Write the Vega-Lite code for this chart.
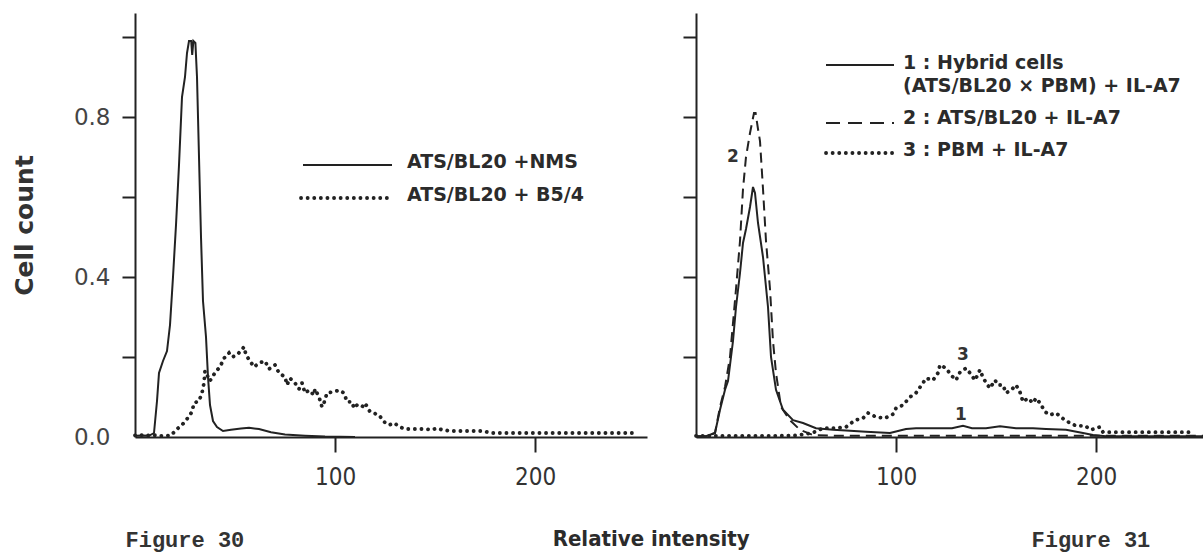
{
  "$schema": "https://vega.github.io/schema/vega-lite/v6.json",
  "background": "white",
  "padding": {"left": 12, "top": 13, "right": 0, "bottom": 3},
  "title": {"text": "Relative intensity", "orient": "bottom", "anchor": "middle", "frame": "bounds", "dx": 41, "offset": -21, "font": "Liberation Sans Narrow, DejaVu Sans Condensed, sans-serif", "fontSize": 22, "fontWeight": "bold", "color": "#2b2b2b"},
  "config": {"view": {"stroke": null}, "axis": {"grid": false, "domainColor": "#222", "domainWidth": 2, "tickColor": "#222", "tickWidth": 2}},
  "datasets": {
    "f30": [
      {"s":"NMS","x":0,"y":0.003},{"s":"NMS","x":4,"y":0.004},{"s":"NMS","x":7,"y":0.003},{"s":"NMS","x":9.5,"y":0.01},{"s":"NMS","x":11,"y":0.09},{"s":"NMS","x":12,"y":0.16},{"s":"NMS","x":14,"y":0.19},{"s":"NMS","x":16,"y":0.215},{"s":"NMS","x":17.5,"y":0.28},{"s":"NMS","x":19,"y":0.4},{"s":"NMS","x":20.5,"y":0.53},{"s":"NMS","x":22,"y":0.68},{"s":"NMS","x":23.5,"y":0.85},{"s":"NMS","x":25,"y":0.9},{"s":"NMS","x":26,"y":0.96},{"s":"NMS","x":27,"y":0.99},{"s":"NMS","x":28.1,"y":0.99},{"s":"NMS","x":28.6,"y":0.955},{"s":"NMS","x":29.2,"y":0.99},{"s":"NMS","x":30.2,"y":0.985},{"s":"NMS","x":31,"y":0.9},{"s":"NMS","x":32,"y":0.7},{"s":"NMS","x":33,"y":0.5},{"s":"NMS","x":34,"y":0.34},{"s":"NMS","x":35.5,"y":0.25},{"s":"NMS","x":36.5,"y":0.15},{"s":"NMS","x":37.5,"y":0.08},{"s":"NMS","x":39,"y":0.04},{"s":"NMS","x":41,"y":0.025},{"s":"NMS","x":44,"y":0.015},{"s":"NMS","x":48,"y":0.018},{"s":"NMS","x":53,"y":0.021},{"s":"NMS","x":57,"y":0.023},{"s":"NMS","x":62,"y":0.02},{"s":"NMS","x":68,"y":0.012},{"s":"NMS","x":75,"y":0.006},{"s":"NMS","x":85,"y":0.003},{"s":"NMS","x":95,"y":0.001},{"s":"NMS","x":110,"y":0},
      {"s":"B54","x":0,"y":0.004},{"s":"B54","x":3,"y":0.005},{"s":"B54","x":6,"y":0.004},{"s":"B54","x":9,"y":0.005},{"s":"B54","x":12,"y":0.003},{"s":"B54","x":15,"y":0.003},{"s":"B54","x":18,"y":0.004},{"s":"B54","x":21,"y":0.02},{"s":"B54","x":23.5,"y":0.03},{"s":"B54","x":26,"y":0.045},{"s":"B54","x":28.5,"y":0.063},{"s":"B54","x":29.5,"y":0.085},{"s":"B54","x":32,"y":0.09},{"s":"B54","x":33.5,"y":0.11},{"s":"B54","x":34.5,"y":0.135},{"s":"B54","x":35,"y":0.165},{"s":"B54","x":37.5,"y":0.14},{"s":"B54","x":38.5,"y":0.15},{"s":"B54","x":41,"y":0.167},{"s":"B54","x":42.5,"y":0.175},{"s":"B54","x":44.5,"y":0.197},{"s":"B54","x":47,"y":0.21},{"s":"B54","x":48.5,"y":0.2},{"s":"B54","x":51,"y":0.205},{"s":"B54","x":54.5,"y":0.225},{"s":"B54","x":55.5,"y":0.205},{"s":"B54","x":57.5,"y":0.19},{"s":"B54","x":59.5,"y":0.175},{"s":"B54","x":62,"y":0.185},{"s":"B54","x":65,"y":0.19},{"s":"B54","x":67,"y":0.17},{"s":"B54","x":70,"y":0.18},{"s":"B54","x":72,"y":0.16},{"s":"B54","x":75,"y":0.15},{"s":"B54","x":76,"y":0.13},{"s":"B54","x":77.5,"y":0.147},{"s":"B54","x":80,"y":0.135},{"s":"B54","x":82,"y":0.12},{"s":"B54","x":83.5,"y":0.135},{"s":"B54","x":85,"y":0.11},{"s":"B54","x":87,"y":0.117},{"s":"B54","x":89.5,"y":0.105},{"s":"B54","x":90,"y":0.12},{"s":"B54","x":92,"y":0.1},{"s":"B54","x":93.5,"y":0.075},{"s":"B54","x":94.5,"y":0.085},{"s":"B54","x":96,"y":0.11},{"s":"B54","x":99.5,"y":0.113},{"s":"B54","x":102,"y":0.117},{"s":"B54","x":104.5,"y":0.11},{"s":"B54","x":106,"y":0.088},{"s":"B54","x":108.5,"y":0.088},{"s":"B54","x":109.5,"y":0.072},{"s":"B54","x":111,"y":0.08},{"s":"B54","x":113.5,"y":0.075},{"s":"B54","x":115,"y":0.085},{"s":"B54","x":117.5,"y":0.063},{"s":"B54","x":122,"y":0.055},{"s":"B54","x":124.5,"y":0.038},{"s":"B54","x":127,"y":0.03},{"s":"B54","x":129.5,"y":0.035},{"s":"B54","x":132.5,"y":0.025},{"s":"B54","x":135,"y":0.02},{"s":"B54","x":140,"y":0.02},{"s":"B54","x":144,"y":0.02},{"s":"B54","x":148.5,"y":0.018},{"s":"B54","x":151,"y":0.022},{"s":"B54","x":153.5,"y":0.018},{"s":"B54","x":158,"y":0.015},{"s":"B54","x":165,"y":0.015},{"s":"B54","x":173.5,"y":0.015},{"s":"B54","x":178.5,"y":0.01},{"s":"B54","x":190,"y":0.01},{"s":"B54","x":200,"y":0.01},{"s":"B54","x":210,"y":0.01},{"s":"B54","x":220,"y":0.01},{"s":"B54","x":230,"y":0.01},{"s":"B54","x":240,"y":0.01},{"s":"B54","x":248.5,"y":0.01}
    ],
    "f31": [
      {"s":"1","x":0,"y":0.002},{"s":"1","x":5,"y":0.002},{"s":"1","x":9.5,"y":0.01},{"s":"1","x":12,"y":0.068},{"s":"1","x":14.5,"y":0.118},{"s":"1","x":16,"y":0.14},{"s":"1","x":18.5,"y":0.24},{"s":"1","x":20,"y":0.325},{"s":"1","x":22,"y":0.41},{"s":"1","x":23.5,"y":0.485},{"s":"1","x":25,"y":0.52},{"s":"1","x":27,"y":0.575},{"s":"1","x":28.5,"y":0.625},{"s":"1","x":29.5,"y":0.61},{"s":"1","x":31,"y":0.535},{"s":"1","x":33.5,"y":0.45},{"s":"1","x":36,"y":0.325},{"s":"1","x":37.5,"y":0.2},{"s":"1","x":40,"y":0.118},{"s":"1","x":43.5,"y":0.068},{"s":"1","x":48.5,"y":0.042},{"s":"1","x":53.5,"y":0.035},{"s":"1","x":60,"y":0.022},{"s":"1","x":68.5,"y":0.018},{"s":"1","x":75,"y":0.016},{"s":"1","x":85,"y":0.013},{"s":"1","x":97,"y":0.01},{"s":"1","x":105,"y":0.02},{"s":"1","x":110,"y":0.022},{"s":"1","x":120,"y":0.022},{"s":"1","x":128,"y":0.022},{"s":"1","x":133.5,"y":0.028},{"s":"1","x":138,"y":0.022},{"s":"1","x":145,"y":0.022},{"s":"1","x":152,"y":0.027},{"s":"1","x":160,"y":0.022},{"s":"1","x":168.5,"y":0.022},{"s":"1","x":175,"y":0.02},{"s":"1","x":185,"y":0.018},{"s":"1","x":193.5,"y":0.01},{"s":"1","x":198.5,"y":0.005},{"s":"1","x":205,"y":0.002},{"s":"1","x":254,"y":0.002},
      {"s":"2","x":0,"y":0.002},{"s":"2","x":5,"y":0.002},{"s":"2","x":9.5,"y":0.01},{"s":"2","x":12,"y":0.075},{"s":"2","x":14.5,"y":0.125},{"s":"2","x":17,"y":0.2},{"s":"2","x":18.5,"y":0.285},{"s":"2","x":20,"y":0.37},{"s":"2","x":22,"y":0.49},{"s":"2","x":23.5,"y":0.62},{"s":"2","x":25,"y":0.7},{"s":"2","x":27,"y":0.76},{"s":"2","x":29,"y":0.81},{"s":"2","x":29.8,"y":0.81},{"s":"2","x":31,"y":0.77},{"s":"2","x":32,"y":0.74},{"s":"2","x":33.5,"y":0.62},{"s":"2","x":35,"y":0.49},{"s":"2","x":37,"y":0.37},{"s":"2","x":38.5,"y":0.24},{"s":"2","x":40,"y":0.16},{"s":"2","x":42.5,"y":0.075},{"s":"2","x":47,"y":0.042},{"s":"2","x":52,"y":0.018},{"s":"2","x":58.5,"y":0.005},{"s":"2","x":70,"y":0.003},{"s":"2","x":100,"y":0.003},{"s":"2","x":150,"y":0.003},{"s":"2","x":200,"y":0.003},{"s":"2","x":254,"y":0.003},
      {"s":"3","x":0,"y":0.003},{"s":"3","x":10,"y":0.003},{"s":"3","x":20,"y":0.003},{"s":"3","x":30,"y":0.003},{"s":"3","x":40,"y":0.003},{"s":"3","x":50,"y":0.004},{"s":"3","x":58,"y":0.01},{"s":"3","x":63.5,"y":0.022},{"s":"3","x":70,"y":0.022},{"s":"3","x":75,"y":0.025},{"s":"3","x":79.5,"y":0.042},{"s":"3","x":83.5,"y":0.047},{"s":"3","x":86,"y":0.06},{"s":"3","x":90,"y":0.05},{"s":"3","x":94.5,"y":0.047},{"s":"3","x":98.5,"y":0.057},{"s":"3","x":100,"y":0.072},{"s":"3","x":103.5,"y":0.08},{"s":"3","x":107,"y":0.1},{"s":"3","x":110,"y":0.11},{"s":"3","x":113.5,"y":0.135},{"s":"3","x":115,"y":0.147},{"s":"3","x":118.5,"y":0.142},{"s":"3","x":121,"y":0.16},{"s":"3","x":122,"y":0.18},{"s":"3","x":125,"y":0.172},{"s":"3","x":127.5,"y":0.155},{"s":"3","x":130,"y":0.142},{"s":"3","x":132,"y":0.162},{"s":"3","x":135,"y":0.172},{"s":"3","x":137,"y":0.16},{"s":"3","x":139.5,"y":0.142},{"s":"3","x":142,"y":0.168},{"s":"3","x":143,"y":0.155},{"s":"3","x":145,"y":0.135},{"s":"3","x":147,"y":0.122},{"s":"3","x":149.5,"y":0.142},{"s":"3","x":151,"y":0.13},{"s":"3","x":153.5,"y":0.13},{"s":"3","x":155,"y":0.11},{"s":"3","x":157.5,"y":0.117},{"s":"3","x":160,"y":0.13},{"s":"3","x":162,"y":0.112},{"s":"3","x":163.5,"y":0.088},{"s":"3","x":166,"y":0.097},{"s":"3","x":168.5,"y":0.085},{"s":"3","x":170,"y":0.097},{"s":"3","x":172,"y":0.085},{"s":"3","x":174.5,"y":0.063},{"s":"3","x":177,"y":0.055},{"s":"3","x":180,"y":0.06},{"s":"3","x":184.5,"y":0.042},{"s":"3","x":187,"y":0.035},{"s":"3","x":190,"y":0.028},{"s":"3","x":194.5,"y":0.028},{"s":"3","x":197.5,"y":0.018},{"s":"3","x":202,"y":0.025},{"s":"3","x":203.5,"y":0.012},{"s":"3","x":215,"y":0.012},{"s":"3","x":230,"y":0.012},{"s":"3","x":247,"y":0.012}
    ]
  },
  "spacing": 35,
  "hconcat": [
    {
      "width": 512,
      "height": 424,
      "encoding": {
        "x": {"field": "x", "type": "quantitative", "scale": {"domain": [0, 256], "nice": false, "zero": false},
          "axis": {"values": [100, 200], "format": "d", "tickSize": 15, "labelFont": "Liberation Sans Narrow, DejaVu Sans Condensed, sans-serif", "labelFontSize": 24, "labelColor": "#333", "labelPadding": 13,
            "title": "Figure 30", "titleFont": "Liberation Mono, DejaVu Sans Mono, monospace", "titleFontSize": 22, "titleFontWeight": "bold", "titleColor": "#333", "titleX": -10, "titleY": 102, "titleAlign": "left", "titleAnchor": "start", "titleBaseline": "middle"}},
        "y": {"field": "y", "type": "quantitative", "scale": {"domain": [0, 1.06], "nice": false},
          "axis": {"values": [0, 0.2, 0.4, 0.6, 0.8, 1], "labelExpr": "datum.value == 0 ? '0.0' : datum.value == 0.4 ? '0.4' : datum.value == 0.8 ? '0.8' : ''", "tickSize": 13,
            "tickOpacity": {"condition": {"test": "datum.value == 0", "value": 0}, "value": 1},
            "labelFont": "DejaVu Sans", "labelFontSize": 23, "labelColor": "#444", "labelPadding": 12,
            "title": "Cell count", "titleFont": "DejaVu Sans", "titleFontSize": 25, "titleFontWeight": "bold", "titleColor": "#333", "titlePadding": 36}}
      },
      "layer": [
        {
          "data": {"name": "f30"},
          "transform": [{"filter": "datum.s == 'NMS'"}],
          "mark": {"type": "line", "color": "#222", "strokeWidth": 2}
        },
        {
          "data": {"name": "f30"},
          "transform": [{"filter": "datum.s == 'B54'"}],
          "mark": {"type": "line", "color": "#222", "strokeWidth": 3.8, "strokeDash": [0.1, 6.5], "strokeCap": "round"}
        },
        {
          "data": {"values": [{"x": 84, "x2": 128.5, "y": 0.68}]},
          "mark": {"type": "rule", "color": "#222", "strokeWidth": 2},
          "encoding": {"x2": {"field": "x2"}}
        },
        {
          "data": {"values": [{"x": 83, "x2": 128.5, "y": 0.5975}]},
          "mark": {"type": "rule", "color": "#222", "strokeWidth": 3.8, "strokeDash": [0.1, 6.5], "strokeCap": "round"},
          "encoding": {"x2": {"field": "x2"}}
        },
        {
          "data": {"values": [{"x": 136, "y": 0.6875, "label": "ATS/BL20 +NMS"}, {"x": 136, "y": 0.605, "label": "ATS/BL20 + B5/4"}]},
          "mark": {"type": "text", "align": "left", "baseline": "middle", "font": "DejaVu Sans", "fontWeight": "bold", "fontSize": 19, "color": "#2b2b2b"},
          "encoding": {"text": {"field": "label"}}
        }
      ]
    },
    {
      "width": 508,
      "height": 424,
      "encoding": {
        "x": {"field": "x", "type": "quantitative", "scale": {"domain": [0, 254], "nice": false, "zero": false},
          "axis": {"values": [100, 200], "format": "d", "tickSize": 15, "labelFont": "Liberation Sans Narrow, DejaVu Sans Condensed, sans-serif", "labelFontSize": 24, "labelColor": "#333", "labelPadding": 13,
            "title": "Figure 31", "titleFont": "Liberation Mono, DejaVu Sans Mono, monospace", "titleFontSize": 22, "titleFontWeight": "bold", "titleColor": "#333", "titleX": 335, "titleY": 102, "titleAlign": "left", "titleAnchor": "start", "titleBaseline": "middle"}},
        "y": {"field": "y", "type": "quantitative", "scale": {"domain": [0, 1.06], "nice": false},
          "axis": {"values": [0, 0.2, 0.4, 0.6, 0.8, 1], "labels": false, "tickSize": 13, "title": null,
            "tickOpacity": {"condition": {"test": "datum.value == 0", "value": 0}, "value": 1}}}
      },
      "layer": [
        {
          "data": {"name": "f31"},
          "transform": [{"filter": "datum.s == '1'"}],
          "mark": {"type": "line", "color": "#222", "strokeWidth": 2}
        },
        {
          "data": {"name": "f31"},
          "transform": [{"filter": "datum.s == '2'"}],
          "mark": {"type": "line", "color": "#222", "strokeWidth": 2, "strokeDash": [10, 6]}
        },
        {
          "data": {"name": "f31"},
          "transform": [{"filter": "datum.s == '3'"}],
          "mark": {"type": "line", "color": "#222", "strokeWidth": 3.8, "strokeDash": [0.1, 6.5], "strokeCap": "round"}
        },
        {
          "data": {"values": [{"x": 65, "x2": 99, "y": 0.93}]},
          "mark": {"type": "rule", "color": "#222", "strokeWidth": 2},
          "encoding": {"x2": {"field": "x2"}}
        },
        {
          "data": {"values": [{"x": 65, "x2": 99, "y": 0.785}]},
          "mark": {"type": "rule", "color": "#222", "strokeWidth": 2, "strokeDash": [14, 8]},
          "encoding": {"x2": {"field": "x2"}}
        },
        {
          "data": {"values": [{"x": 65, "x2": 99, "y": 0.71}]},
          "mark": {"type": "rule", "color": "#222", "strokeWidth": 3.8, "strokeDash": [0.1, 6.5], "strokeCap": "round"},
          "encoding": {"x2": {"field": "x2"}}
        },
        {
          "data": {"values": [
            {"x": 103.5, "y": 0.935, "label": "1 : Hybrid cells"},
            {"x": 103.5, "y": 0.8775, "label": "(ATS/BL20 × PBM) + IL-A7"},
            {"x": 103.5, "y": 0.7975, "label": "2 : ATS/BL20 + IL-A7"},
            {"x": 103.5, "y": 0.7175, "label": "3 : PBM + IL-A7"}
          ]},
          "mark": {"type": "text", "align": "left", "baseline": "middle", "font": "DejaVu Sans", "fontWeight": "bold", "fontSize": 19, "color": "#2b2b2b"},
          "encoding": {"text": {"field": "label"}}
        },
        {
          "data": {"values": [{"x": 18.5, "y": 0.7, "label": "2"}, {"x": 133.5, "y": 0.205, "label": "3"}, {"x": 132.5, "y": 0.055, "label": "1"}]},
          "mark": {"type": "text", "align": "center", "baseline": "middle", "font": "DejaVu Sans", "fontWeight": "bold", "fontSize": 17, "color": "#333"},
          "encoding": {"text": {"field": "label"}}
        }
      ]
    }
  ]
}
